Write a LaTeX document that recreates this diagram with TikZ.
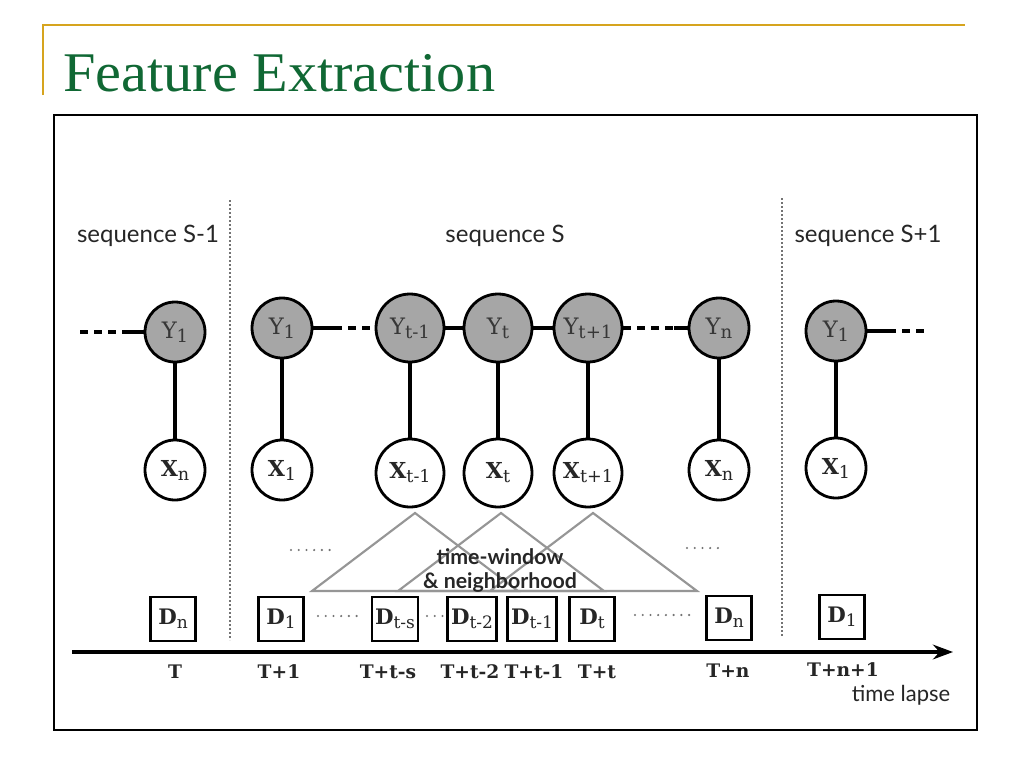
\documentclass[tikz,border=0pt]{standalone}
\usepackage{fontspec}
\setmainfont{Liberation Serif}
\setsansfont{Lato}
\newfontfamily\lblfont{DejaVu Serif}
\usetikzlibrary{arrows.meta}
\definecolor{gold}{RGB}{214,164,30}
\definecolor{titlegreen}{RGB}{16,104,52}
\definecolor{ygray}{RGB}{166,166,166}
\definecolor{trigray}{RGB}{150,150,150}
\definecolor{labgray}{RGB}{55,55,55}
\makeatletter
\newcommand\sbx[1]{\raisebox{-0.35ex}{\mdseries\fontsize{\strip@pt\dimexpr\f@size pt*4/5\relax}{1}\selectfont #1}}
\makeatother
\tikzset{
  ys/.style={circle, draw=black, line width=2.1pt, fill=ygray, minimum size=45pt, inner sep=0pt,
    font=\lblfont\fontsize{17}{17}\selectfont, text=labgray},
  yl/.style={ys, minimum size=51pt},
  xs/.style={circle, draw=black, line width=2.1pt, fill=white, minimum size=45pt, inner sep=0pt,
    font=\lblfont\bfseries\fontsize{16.5}{16.5}\selectfont, text=black!85},
  xl/.style={xs, minimum size=51pt},
  dbox/.style={draw=black, line width=1.8pt, fill=white, minimum width=34pt, minimum height=33pt,
    inner xsep=2.5pt, font=\lblfont\bfseries\fontsize{16}{16}\selectfont, text=black!85},
  tlab/.style={font=\lblfont\bfseries\fontsize{14}{14}\selectfont, text=black!85},
  seqlab/.style={font=\sffamily\fontsize{18}{18}\selectfont, text=black!85},
  chain/.style={line width=2.6pt, black},
  chaind/.style={chain, dash pattern=on 6pt off 4.5pt},
  stem/.style={line width=2.4pt, black},
  tri/.style={draw=trigray, line width=1.6pt, line join=miter},
  sepline/.style={draw=black!55, line width=1.2pt, dash pattern=on 1.2pt off 1.8pt},
  dotrow/.style={draw=black!55, line width=1.8pt, line cap=round, dash pattern=on 0pt off 5.8pt}
}
\begin{document}
\begin{tikzpicture}[x=0.75pt,y=-0.75pt]
\useasboundingbox (0,0) rectangle (1024,768);
\fill[white] (0,0) rectangle (1024,768);
% header
\draw[gold, line width=1.6pt] (43,95) -- (43,25) -- (965,25);
\node[anchor=base west, inner sep=0pt, text=titlegreen, font=\fontsize{42}{42}\selectfont, xscale=1.04] (title) at (63,91) {Feature Extraction};
% frame
\draw[line width=1.8pt] (54,115) rectangle (977,730);
% separators
\draw[sepline] (230,200) -- (230,640);
\draw[sepline] (782,198) -- (782,637);
% sequence labels
\node[seqlab] (s1) at (148,236) {sequence S-1};
\node[seqlab] (s2) at (505,236) {sequence S};
\node[seqlab] (s3) at (868,236) {sequence S+1};
% Y nodes
\node[ys] (ya) at (175,332) {Y\sbx{1}};
\node[ys] (yb) at (282,328) {Y\sbx{1}};
\node[yl] (ytm) at (410,328) {Y\sbx{t-1}};
\node[yl] (yt) at (498,328) {Y\sbx{t}};
\node[yl] (ytp) at (588,328) {Y\sbx{t+1}};
\node[ys] (yn) at (719,328) {Y\sbx{n}};
\node[ys] (yc) at (836,331) {Y\sbx{1}};
% X nodes
\node[xs] (xa) at (175,470) {X\sbx{n}};
\node[xs] (xb) at (282,470) {X\sbx{1}};
\node[xl] (xtm) at (410,473) {X\sbx{t-1}};
\node[xl] (xt) at (498,473) {X\sbx{t}};
\node[xl] (xtp) at (588,473) {X\sbx{t+1}};
\node[xs] (xn) at (719,470) {X\sbx{n}};
\node[xs] (xc) at (836,468) {X\sbx{1}};
% stems
\foreach \a/\b in {ya/xa,yb/xb,ytm/xtm,yt/xt,ytp/xtp,yn/xn,yc/xc}
  \draw[stem] (\a) -- (\b);
% chain
\coordinate (ca0) at (80,332);
\coordinate (ca1) at (124,332);
\draw[chaind] (ca0) -- (ca1);
\draw[chain] (ca1) -- (ya.west);
\coordinate (cb1) at (334,328);
\draw[chain] (yb.east) -- (cb1);
\draw[chaind] (cb1) -- (ytm.west);
\draw[chain] (ytm) -- (yt);
\draw[chain] (yt) -- (ytp);
\coordinate (cc1) at (674,328);
\draw[chaind] (ytp.east) -- (cc1);
\draw[chain] (cc1) -- (yn.west);
\coordinate (cd1) at (888,331);
\coordinate (cd2) at (930,331);
\draw[chain] (yc.east) -- (cd1);
\draw[chaind] (cd1) -- (cd2);
% triangles
\draw[tri] (312,591) -- (415,513) -- (518,591) -- cycle;
\draw[tri] (398,591) -- (501,513) -- (604,591) -- cycle;
\draw[tri] (490,591) -- (593,513) -- (697,591) -- cycle;
\node[font=\sffamily\bfseries\fontsize{16}{18}\selectfont, align=center, text=black!85, inner sep=0pt] (tw) at (500,570) {time-window\\\& neighborhood};
% dots
\draw[dotrow] (291,550) -- (331,550);
\draw[dotrow] (687,548) -- (722,548);
% D boxes
\node[dbox] (da) at (173,619) {D\sbx{n}};
\node[dbox] (db) at (281,619) {D\sbx{1}};
\node[dbox] (dts) at (395,619) {D\sbx{t-s}};
\node[dbox] (dt2) at (472,619) {D\sbx{t-2}};
\node[dbox] (dt1) at (532,619) {D\sbx{t-1}};
\node[dbox] (dt) at (592,619) {D\sbx{t}};
\node[dbox] (dn) at (729,618) {D\sbx{n}};
\node[dbox] (dc) at (842,617) {D\sbx{1}};
\draw[dotrow] (318,616) -- (360,616);
\draw[dotrow] (427,616) -- (444,616);
\draw[dotrow] (635,615) -- (693,615);
% time axis
\coordinate (ax0) at (72,652);
\coordinate (ax1) at (953,652);
\draw[line width=2.4pt, -{Stealth[length=15pt,width=11pt]}] (ax0) -- (ax1);
\node[tlab] (t0) at (175,672) {T};
\node[tlab] (t1) at (279,672) {T+1};
\node[tlab] (t2) at (388,672) {T+t-s};
\node[tlab] (t3) at (470,672) {T+t-2};
\node[tlab] (t4) at (534,672) {T+t-1};
\node[tlab] (t5) at (597,672) {T+t};
\node[tlab] (t6) at (728,671) {T+n};
\node[tlab] (t7) at (843,670) {T+n+1};
\node[font=\sffamily\fontsize{16.5}{16.5}\selectfont, text=black!85] (tl) at (901,695) {time lapse};
\end{tikzpicture}
\end{document}
